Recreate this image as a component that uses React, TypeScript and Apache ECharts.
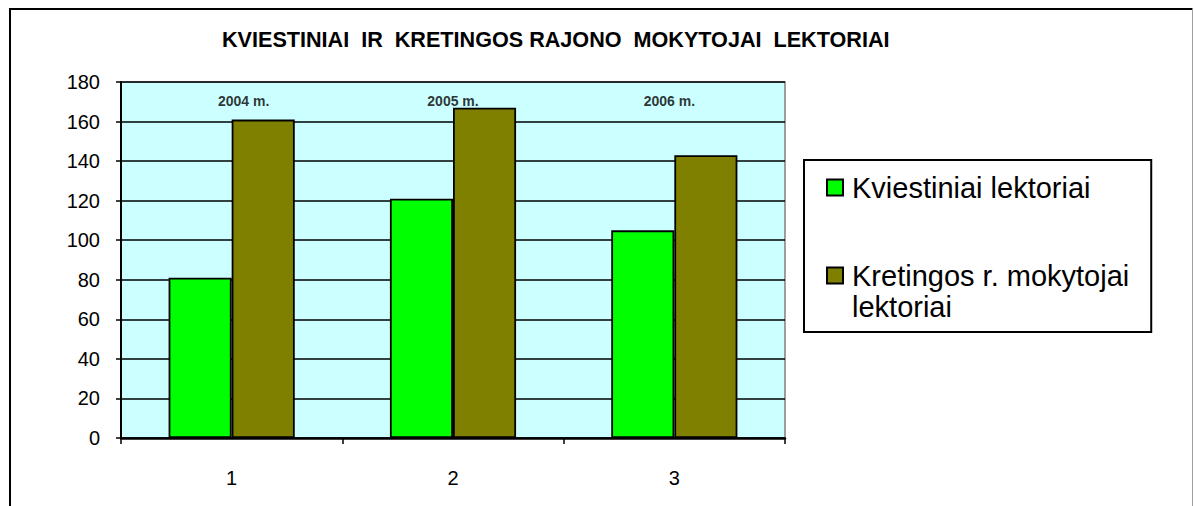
import React, { useEffect, useRef } from "react";
import * as echarts from "echarts";

const categories = ["1", "2", "3"];
const invitedLecturers = [81, 121, 105];
const localTeacherLecturers = [161, 167, 143];
const yearLabels = ["2004 m.", "2005 m.", "2006 m."];
const seriesNames = ["Kviestiniai lektoriai", "Kretingos r. mokytojai lektoriai"];
const titleText = "KVIESTINIAI  IR  KRETINGOS RAJONO  MOKYTOJAI  LEKTORIAI";

const yearLabelLevel = 170.5;
const yearLabelOffsets = [[12, 0], [0, 0], [-5, 0]];
const FONT = "'Liberation Sans', Arial, sans-serif";

export default function App() {
  const ref = useRef<HTMLDivElement>(null);
  useEffect(() => {
    if (!ref.current) return;
    const chart = echarts.init(ref.current, null, { renderer: "svg" });
    chart.setOption({
      animation: false,
      backgroundColor: "#ffffff",
      textStyle: { fontFamily: FONT },
      title: {
        text: titleText,
        left: 217,
        top: 23,
        textStyle: { fontFamily: FONT, fontSize: 21.6, fontWeight: "bold", color: "#000" },
      },
      graphic: [
        {
          type: "polyline",
          shape: { points: [[10, 520], [10, 9], [1192.5, 9]] },
          style: { stroke: "#000", lineWidth: 2, fill: "none" },
          silent: true,
        },
        {
          type: "line",
          shape: { x1: 1192.5, y1: 9, x2: 1192.5, y2: 520 },
          style: { stroke: "#a0a0a0", lineWidth: 1 },
          silent: true,
        },
      ],
      legend: {
        data: seriesNames,
        orient: "vertical",
        left: 804,
        top: 160,
        padding: [10, 22, 8, 22],
        itemGap: 22,
        itemWidth: 16,
        itemHeight: 16,
        borderColor: "#000",
        borderWidth: 2,
        backgroundColor: "#fff",
        icon: "rect",
        selectedMode: false,
        formatter: (name: string) =>
          name === seriesNames[1] ? " \nKretingos r. mokytojai\nlektoriai" : name,
        textStyle: {
          fontFamily: FONT,
          fontSize: 29,
          lineHeight: 31,
          color: "#000",
          padding: [4, 0, 0, 4],
        },
      },
      grid: {
        left: 121,
        right: 1194 - 785,
        top: 82,
        bottom: 506 - 438,
        show: true,
        backgroundColor: "#CCFFFF",
        borderColor: "#808080",
        borderWidth: 1.5,
        containLabel: false,
      },
      xAxis: {
        type: "category",
        data: categories,
        boundaryGap: true,
        axisLine: { show: true, lineStyle: { color: "#000", width: 2.5 } },
        axisTick: { show: true, length: 6, lineStyle: { color: "#000", width: 1.5 } },
        axisLabel: { color: "#000", fontSize: 20, margin: 30, fontFamily: FONT },
        splitLine: { show: false },
      },
      yAxis: {
        type: "value",
        min: 0,
        max: 180,
        interval: 20,
        axisLine: { show: true, lineStyle: { color: "#000", width: 2 } },
        axisTick: { show: true, length: 5, lineStyle: { color: "#000", width: 1.5 } },
        axisLabel: { color: "#000", fontSize: 20, margin: 21, fontFamily: FONT },
        splitLine: { show: true, lineStyle: { color: "#000", width: 1.5 } },
      },
      series: [
        {
          name: seriesNames[0],
          type: "bar",
          data: invitedLecturers,
          barGap: "0%",
          barCategoryGap: "43%",
          itemStyle: { color: "#00FF00", borderColor: "#000", borderWidth: 1.8 },
        },
        {
          name: seriesNames[1],
          type: "bar",
          data: localTeacherLecturers,
          barGap: "0%",
          barCategoryGap: "43%",
          itemStyle: { color: "#808000", borderColor: "#000", borderWidth: 1.8 },
        },
        {
          name: "years",
          type: "scatter",
          silent: true,
          symbolSize: 0,
          data: yearLabels.map((t, i) => ({
            value: [categories[i], yearLabelLevel],
            label: {
              show: true,
              position: "inside",
              formatter: t,
              offset: yearLabelOffsets[i],
              fontSize: 14,
              fontWeight: "bold",
              color: "#000",
              fontFamily: FONT,
            },
          })),
        },
      ],
    });
    return () => chart.dispose();
  }, []);
  return (
    <div
      ref={ref}
      style={{ position: "absolute", left: 0, top: 0, width: 1194, height: 506 }}
    />
  );
}
